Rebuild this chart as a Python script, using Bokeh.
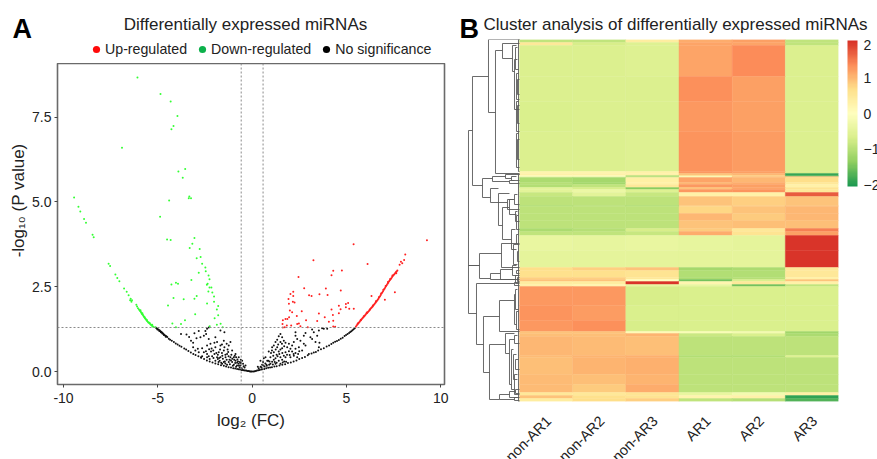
from math import pi
from bokeh.plotting import figure
from bokeh.layouts import row, column
from bokeh.embed import file_html
from bokeh.resources import INLINE
from bokeh.models import (Range1d, FixedTicker, Span, Label, Legend, LegendItem, ColumnDataSource,
                          LinearColorMapper, ColorBar, NumeralTickFormatter)

FONT = "Liberation Sans"
TXT = "#222222"

down_points = [(-6.08,8.67),(-4.86,8.18),(-4.32,7.96),(-3.96,7.53),(-4.17,7.24),(-4.28,7.14),(-6.9,6.6),(-3.55,5.97),(-3.91,5.90),(-3.68,5.71),(-3.33,5.16),(-3.36,5.11),(-3.24,5.11),(-4.40,5.04),(-4.88,4.56),(-9.44,5.13),(-9.21,4.86),(-9.11,4.72),(-8.91,4.50),(-8.81,4.39),
(-8.46,4.03),(-8.40,3.96),(-7.61,3.18),(-7.53,3.11),(-7.25,2.86),(-7.15,2.76),(-7.04,2.66),(-6.79,2.45),(-6.65,2.35),(-6.55,2.25),(-6.44,2.15),(-6.37,2.10),(-6.47,2.10),(-6.40,2.06),
(-6.14,1.97),(-6.10,1.92),(-6.05,1.87),(-6.00,1.83),(-5.96,1.80),(-5.93,1.78),(-5.90,1.76),(-5.87,1.73),(-5.84,1.70),(-5.81,1.68),(-5.78,1.66),(-5.75,1.63),(-5.72,1.61),(-5.69,1.58),(-5.66,1.56),(-5.63,1.54),(-5.60,1.51),(-5.57,1.49),(-5.53,1.47),(-5.50,1.45),(-5.46,1.43),(-5.42,1.41),(-5.38,1.39),(-5.35,1.37),(-5.31,1.35),(-5.27,1.33),(-5.23,1.32),(-5.13,1.31),(-5.92,1.81),(-5.82,1.72),(-5.70,1.60),(-5.58,1.52),(-5.44,1.44),(-5.30,1.38),
(-4.51,3.89),(-4.32,3.88),(-3.06,3.94),(-3.17,3.77),(-3.31,3.64),(-2.78,3.61),(-2.94,3.34),(-2.73,3.38),(-2.65,3.18),(-2.48,3.07),(-2.46,2.96),(-2.83,2.91),(-2.31,2.83),(-3.22,2.70),(-2.26,2.72),(-2.36,2.59),(-2.40,2.56),(-4.28,2.57),(-4.04,2.62),(-3.93,2.59),(-2.26,2.48),(-2.16,2.48),(-2.32,2.36),(-2.11,2.33),(-2.02,2.21),(-2.94,2.23),(-3.06,2.15),(-4.17,2.17),(-3.63,2.13),(-2.02,2.06),(-2.39,2.01),(-4.46,1.95),(-1.80,1.93),(-1.87,1.83),(-1.99,1.57),(-1.80,1.66),(-3.02,1.69),(-3.56,1.51),(-4.23,1.42),(-3.77,1.40),(-4.04,1.31),(-2.25,1.34),(-1.87,1.38),(-1.67,1.41),(-1.56,1.31)]

up_points = [(9.27,3.87),(5.38,3.75),(3.25,3.28),(6.12,3.17),(8.12,3.45),(8.06,3.29),(7.89,3.24),(7.96,3.19),(7.82,3.15),(7.64,2.90),(4.30,2.97),(4.76,2.98),(4.21,2.84),(2.46,2.79),(2.76,2.46),(3.91,2.45),(4.70,2.39),(7.57,2.34),(2.18,2.35),(2.03,2.29),(3.02,2.25),(3.15,2.23),(3.57,2.28),(4.00,2.26),(2.18,2.23),(1.93,2.14),(6.33,2.23),(7.04,2.12),(2.16,2.06),(2.25,2.04),(1.95,2.00),(5.09,2.02),(4.97,1.99),(4.60,1.94),(4.97,1.90),(5.15,1.85),(5.39,1.85),(4.69,1.84),(4.21,1.83),(2.00,1.80),(2.12,1.75),(2.63,1.78),(4.60,1.72),(4.28,1.67),(3.54,1.71),(3.85,1.60),(2.37,1.64),(1.96,1.60),(1.87,1.55),(1.77,1.55),(1.63,1.51),(2.86,1.51),(3.45,1.49),(4.30,1.50),(4.07,1.47),(1.61,1.40),(2.39,1.40),(2.48,1.42),(1.84,1.36),(1.73,1.31),(1.63,1.30),(2.07,1.36),(2.56,1.34),(2.95,1.31),(4.30,1.33),(4.40,1.32),
(5.50,1.32),(5.54,1.36),(5.58,1.39),(5.62,1.42),(5.66,1.44),(5.70,1.47),(5.74,1.50),(5.78,1.52),(5.82,1.55),(5.86,1.58),(5.90,1.60),(5.94,1.63),(5.98,1.65),(6.02,1.68),(6.06,1.71),(6.10,1.73),(6.14,1.76),(6.18,1.78),(6.22,1.81),(6.26,1.84),(6.30,1.87),(6.34,1.89),(6.38,1.91),(6.42,1.94),(6.46,1.97),(6.50,2.00),(6.54,2.03),(6.58,2.06),(6.62,2.09),(6.66,2.12),(6.70,2.15),(6.74,2.19),(6.78,2.22),(6.82,2.26),(6.86,2.30),(6.90,2.33),(6.94,2.37),(6.98,2.41),(7.02,2.44),(7.06,2.48),(7.10,2.52),(7.14,2.55),(7.18,2.59),(7.22,2.62),(7.26,2.66),(7.30,2.69),(7.34,2.72),(7.38,2.75),(7.42,2.79),(7.46,2.82),(7.50,2.85),(7.54,2.87),(7.58,2.90),(7.62,2.93),(7.66,2.95),(7.70,2.98),
(5.60,1.42),(5.76,1.53),(5.92,1.63),(6.08,1.74),(6.24,1.83),(6.40,1.95),(6.56,2.07),(6.72,2.19),(6.84,2.30),(6.96,2.41),(7.08,2.52),(7.20,2.64),(7.32,2.73),(7.44,2.83)]

ns_points = [(-5.10,1.29),(-5.05,1.27),(-5.00,1.25),(-4.95,1.23),(-4.90,1.21),(-4.86,1.19),(-4.82,1.17),(-4.78,1.15),(-4.74,1.13),(-4.70,1.11),(-4.65,1.08),(-4.60,1.06),(-4.55,1.04),(-4.50,1.02),(-4.42,0.97),(-4.35,0.94),(-4.26,0.91),(-4.15,0.87),(-4.05,0.83),(-3.95,0.80),(-3.85,0.76),(-3.75,0.73),(-3.60,0.68),(-3.50,0.65),(-3.38,0.61),(-3.25,0.56),(-3.12,0.52),(-3.00,0.49),(-2.85,0.45),(-2.70,0.41),(-2.55,0.37),(-2.40,0.33),(-2.25,0.30),(-2.10,0.27),(-1.95,0.24),(-1.80,0.22),(-1.65,0.19),(-1.50,0.17),(-1.38,0.15),(-1.25,0.13),(-1.12,0.12),(-1.00,0.10),(-0.90,0.09),(-0.80,0.08),(-0.72,0.07),(-0.64,0.06),(-0.56,0.05),(-0.50,0.05),(-0.44,0.04),(-0.38,0.03),(-0.32,0.03),(-0.26,0.02),(-0.20,0.015),(-0.15,0.01),(-0.10,0.005),(-0.05,0.0),(0,0),
(-5.02,1.24),(-4.92,1.20),(-4.84,1.16),(-4.76,1.12),(-4.68,1.08),(-4.58,1.03),
(-3.77,1.11),(-3.48,1.09),(-3.34,1.02),(-3.06,1.13),(-2.83,1.20),(-2.48,1.20),(-2.39,1.26),(-2.30,1.30),(-2.44,1.11),(-2.56,1.06),(-2.95,0.98),(-3.24,0.91),(-3.13,0.85),(-2.74,1.01),(-2.30,0.96),(-1.68,1.21),(-1.47,1.16),(-1.95,1.01),(-1.86,0.87),(-2.21,0.82),(-2.39,0.77),(-2.65,0.69),(-2.88,0.67),(-3.13,0.72),(-1.50,0.91),(-1.15,0.87),(-1.24,0.77),(-1.47,0.72),(-1.68,0.77),(-1.95,0.72),(-2.18,0.59),(-2.39,0.52),(-2.56,0.57),(-2.00,0.52),(-1.77,0.57),(-1.50,0.62),(-1.33,0.52),(-1.06,0.62),(-0.88,0.52),(-0.97,0.42),(-0.71,0.42),(-0.53,0.32),(-1.15,0.42),(-1.41,0.42),(-1.68,0.42),(-1.86,0.42),(-2.12,0.45),(-2.25,0.37),(-1.95,0.32),(-1.72,0.32),(-1.50,0.28),(-1.24,0.28),(-1.06,0.28),(-0.88,0.32),(-0.71,0.23),(-0.48,0.23),(-0.35,0.18),(-0.62,0.18),(-0.80,0.18),(-0.97,0.20),(-1.33,0.20),(-1.59,0.23),(-1.82,0.37),(-2.39,0.42),(-2.65,0.45),(-2.83,0.57),(-3.01,0.62),(-2.71,0.42),
(-1.30,0.65),(-1.10,0.50),(-0.95,0.35),(-0.85,0.42),(-0.75,0.30),(-0.65,0.28),(-0.60,0.35),(-1.60,0.55),(-1.75,0.40),(-2.05,0.40),(-1.90,0.55),(-2.30,0.45),(-1.35,0.35),(-1.20,0.35),(-1.05,0.38),(-0.90,0.25),(-0.80,0.26),(-0.70,0.17),(-1.45,0.30),(-1.55,0.38),(-1.25,0.45),(-2.15,0.68),(-1.60,0.80),(-1.35,0.82),(-2.00,0.85),(-0.45,0.16),(-0.40,0.12),
(-1.78,0.28),(-1.64,0.26),(-1.42,0.24),(-1.18,0.22),(-1.02,0.17),(-0.85,0.14),(-0.66,0.12),(-0.55,0.10),(-0.92,0.47),(-1.12,0.33),(-1.27,0.58),(-1.42,0.50),(-1.58,0.47),(-1.70,0.65),(-1.82,0.50),(-2.06,0.62),(-2.28,0.66),(-2.45,0.60),(-0.78,0.36),(-0.60,0.25),
(5.44,1.28),(5.38,1.25),(5.32,1.22),(5.26,1.19),(5.20,1.17),(5.14,1.14),(5.06,1.11),(4.98,1.08),(4.90,1.05),(4.80,1.00),(4.70,0.97),(4.60,0.93),(4.50,0.90),(4.40,0.88),(4.30,0.85),(4.20,0.81),(4.08,0.77),(3.95,0.74),(3.80,0.69),(3.65,0.66),(3.50,0.62),(3.38,0.58),(3.27,0.56),(3.15,0.53),(2.95,0.48),(2.80,0.43),(2.65,0.40),(2.50,0.37),(2.35,0.33),(2.20,0.30),(2.05,0.27),(1.90,0.25),(1.75,0.22),(1.60,0.20),(1.45,0.18),(1.30,0.16),(1.18,0.15),(1.05,0.13),(0.95,0.12),(0.85,0.11),(0.75,0.10),(0.65,0.08),(0.55,0.07),(0.48,0.06),(0.40,0.05),(0.33,0.04),(0.26,0.03),(0.20,0.02),(0.14,0.01),(0.08,0.005),
(1.50,1.11),(1.41,1.04),(1.59,1.01),(1.33,0.94),(1.68,0.91),(1.50,0.87),(1.24,0.87),(1.77,0.85),(1.06,0.72),(1.33,0.72),(1.59,0.69),(0.88,0.59),(1.15,0.57),(1.41,0.59),(1.77,0.57),(0.71,0.42),(0.97,0.42),(1.24,0.39),(1.50,0.42),(1.77,0.42),(2.03,0.42),(2.12,0.59),(2.21,0.87),(2.30,1.06),(2.30,1.16),(2.56,0.91),(2.83,1.14),(2.74,0.82),(2.48,0.72),(2.30,0.67),(2.65,0.62),(3.01,0.52),(3.18,0.96),(3.27,1.16),(3.54,1.21),(3.09,1.01),(3.57,0.85),(3.54,0.72),(3.80,1.26),(3.71,1.28),(3.18,1.24),(2.83,0.77),(1.99,0.49),(2.21,0.47),(2.44,0.52),(2.39,0.42),(0.44,0.32),(0.58,0.28),(0.80,0.32),(1.06,0.29),(1.41,0.32),(1.59,0.35),(1.80,0.29),(0.53,0.20),(0.76,0.20),(0.97,0.23),(1.24,0.23),(1.50,0.23),(0.62,0.39),(1.15,0.77),(1.86,0.72),(1.95,0.82),(2.03,0.67),(2.12,0.77),(3.45,1.06),(3.98,1.26),(3.36,0.87),(2.74,1.06),(2.39,0.96),
(1.00,0.55),(1.30,0.50),(1.60,0.55),(1.85,0.50),(2.30,0.55),(0.60,0.18),(0.45,0.14),(0.35,0.10),(0.30,0.14),(0.70,0.24),(0.85,0.32),(1.15,0.35),(1.35,0.45),(1.20,0.28),(1.70,0.30),
(0.50,0.12),(0.66,0.15),(0.78,0.17),(0.90,0.20),(1.10,0.21),(1.30,0.26),(1.62,0.27),(0.92,0.30),(1.12,0.47),(1.44,0.52),(1.68,0.47),(1.95,0.60),(2.20,0.52),(1.05,0.62),(1.25,0.65),(1.50,0.65),(1.70,0.75),(1.38,0.80),(1.58,0.82),(2.50,0.60)]

samples = ["non-AR1", "non-AR2", "non-AR3", "AR1", "AR2", "AR3"]
heat_counts = [3,3,31,25,30,40,2,2,1,1,5,2,3,2,3,4,9,1,7,7,8,3,4,15,17,3,7,2,2,3,2,19,15,11,2,3,19,2,17,10,8,3,3,3]
heat_rows = [
 [-0.9,-0.9,0.4,1.1,1.2,-0.9],[0.5,-0.7,-0.6,1.15,1.15,-0.9],[-0.62,-0.62,-0.6,1.15,1.35,-0.62],
 [-0.62,-0.62,-0.62,1.33,1.2,-0.62],[-0.64,-0.62,-0.62,1.25,1.2,-0.62],[-0.62,-0.62,-0.6,1.3,1.22,-0.62],
 [0.25,0.25,0.3,1.25,1.2,-0.7],[0.3,0.3,0.3,0.9,1.0,-1.85],[0.1,0.1,-1.0,0.6,0.8,-1.7],[-0.3,-0.3,-1.0,-0.1,0.9,0.9],
 [-1.1,-1.15,0.35,1.15,1.0,0.7],[-1.0,-1.15,0.3,1.0,1.1,0.5],[-1.05,-0.9,0.5,1.25,1.2,0.3],[-0.5,-0.7,-1.4,0.9,1.15,0.6],
 [-0.5,-0.35,-0.6,1.25,1.3,0.5],[-0.85,-0.5,-0.85,0.3,0.3,1.7],[-0.95,-0.95,-0.95,0.9,0.8,0.9],[-1.1,-1.0,-1.1,0.85,0.85,0.95],
 [-0.95,-0.95,-0.95,0.75,0.9,1.0],[-0.95,-0.95,-0.95,1.0,0.85,1.0],[-0.95,-0.95,-0.95,0.9,0.95,0.95],[-1.1,-1.0,-0.7,0.85,0.5,1.45],
 [-0.9,-0.9,-0.85,1.1,0.6,1.2],[-0.4,-0.42,-0.4,-0.42,-0.45,2.0],[-0.45,-0.45,-0.45,-0.45,-0.45,2.0],
 [0.7,0.8,0.9,-1.15,-1.1,0.5],[0.65,0.65,0.6,-1.05,-1.05,0.5],[0.8,0.8,0.5,-1.1,-1.0,0.3],[0.9,0.9,0.0,-1.5,-0.65,0.9],
 [0.4,0.4,2.0,0.2,0.5,0.3],[0.3,0.2,-0.4,-0.4,-1.5,-0.9],[1.25,1.25,-0.68,-0.65,-0.65,-0.65],[1.28,1.22,-0.65,-0.65,-0.65,-0.65],
 [1.25,1.32,-0.68,-0.65,-0.65,-0.65],[0.9,0.9,0.1,-0.1,-0.2,-1.2],[0.95,0.95,1.05,-0.8,-0.65,-1.1],[1.0,0.98,0.95,-0.95,-0.95,-0.95],
 [0.98,1.02,1.08,-1.05,-1.05,-0.6],[0.95,1.05,1.08,-0.95,-0.95,-0.95],[0.98,0.95,1.05,-0.95,-0.95,-0.95],[0.98,0.85,1.1,-0.95,-0.95,-0.95],
 [0.5,0.5,0.55,-0.4,-0.2,0.35],[0.9,0.65,0.6,0.25,0.3,-1.9],[0.4,0.7,0.8,-0.9,-1.0,-1.7]]

# dendrogram brackets: height, first row, last row, height of first child, height of second child
dend_nodes = [
 (51,91,274,47,43),(51,226,226,40,40),(47,37,146,31,37),(31,0,73,0,24),(24,11,134,17,0),(17,4,19,0,7),(7,6,32,3,5),(5,20,70,2,0),(4,8,30,2,1),
 (3,34,60,1,0),(3,62,92,1,0),(3,94,128,1,0),(2,40,55,0,0),(2,66,84,0,0),(2,100,120,0,0),
 (37,139,158,27,29),(27,137,142,14,10),(14,135,139,0,8),(10,141,144,5,0),(8,137,141,3,0),(29,149,163,21,12),(21,154,186,10,17),(12,160,170,6,0),
 (17,168,200,10,8),(10,160,175,5,3),(8,190,210,4,3),(6,205,225,3,2),(5,155,165,2,0),(4,172,182,2,0),(3,176,190,1,0),(3,195,205,1,0),(2,212,222,1,0),
 (40,214,239,18,29),(18,204,228,0,0),(29,234,240,19,0),(19,230,240,7,4),(7,226,236,3,0),(4,236,244,2,0),(3,231,234,0,0),(2,238,242,0,0),
 (43,244,305,5,36),(5,243,246,0,0),(36,277,333,20,30),(20,261,292,5,0),(5,255,285,4,3),(4,250,270,2,1),(3,272,290,1,0),
 (30,305,360,14,20),(14,294,314,5,10),(10,300,345,5,8),(8,310,350,6,5),(6,315,340,3,2),(5,335,355,2,0),(5,296,304,2,0),(4,320,330,1,0),
 (20,355,360,10,5),(10,352,358,4,0),(5,358,361,2,0),(4,350,354,0,0),(1,0,132,0,0),(1,135,362,0,0)]

bar_colors = ["#1a9850","#91cf60","#d9ef8b","#ffffbf","#fee08b","#fc8d59","#d73027"]
bar_ticks = [-2,-1,0,1,2]
vol_x_ticks = [-10,-5,0,5,10]
vol_y_ticks = [0,2.5,5,7.5]
fc_cut = 0.58
p_cut = 1.3

def ramp(cols, n):
    out = []
    rgb = [tuple(int(c[i:i+2],16) for i in (1,3,5)) for c in cols]
    for k in range(n):
        t = k/(n-1)*(len(cols)-1)
        i = min(int(t), len(cols)-2)
        f = t-i
        out.append("#%02x%02x%02x" % tuple(round(rgb[i][j]*(1-f)+rgb[i+1][j]*f) for j in range(3)))
    return out

def banner(w, h):
    b = figure(width=w, height=h, output_backend="svg", toolbar_location=None,
               x_range=Range1d(0,w), y_range=Range1d(h,0), x_axis_location=None, y_axis_location=None,
               min_border=0, frame_align=False)
    b.grid.visible = False
    b.outline_line_color = None
    return b

def caption(b, x, y, s, size="17px", style="normal", align="center", color=TXT):
    b.add_layout(Label(x=x, y=y, text=s, text_font=FONT, text_font_size=size, text_font_style=style,
                       text_color=color, text_align=align, text_baseline="middle"))

# ---------- Panel A
ban_a = banner(453, 63)
caption(ban_a, 245, 24, "Differentially expressed miRNAs")
caption(ban_a, 12, 28, "A", size="27px", style="bold", align="left", color="#000000")

off = -50
leg_up = ban_a.scatter([off], [off], marker="circle", fill_color="#ff0a0a", line_color=None)
leg_down = ban_a.scatter([off], [off], marker="circle", fill_color="#0cb14b", line_color=None)
leg_ns = ban_a.scatter([off], [off], marker="circle", fill_color="#000000", line_color=None)
legend = Legend(items=[LegendItem(label="Up-regulated", renderers=[leg_up]),
                       LegendItem(label="Down-regulated", renderers=[leg_down]),
                       LegendItem(label="No significance", renderers=[leg_ns])],
                orientation="horizontal", location=(87,5), padding=0, margin=0, spacing=6,
                glyph_width=18, glyph_height=18, label_standoff=0, border_line_color=None,
                background_fill_alpha=0, label_text_font=FONT, label_text_font_size="14.2px",
                label_text_color=TXT, label_height=18)
ban_a.add_layout(legend, "center")

p1 = figure(width=453, height=396, output_backend="svg", toolbar_location=None,
            x_range=Range1d(-10.32,10.2), y_range=Range1d(-0.38,9.08), frame_align=False,
            min_border_left=57, min_border_right=9, min_border_top=0, min_border_bottom=75)
p1.grid.visible = False
p1.outline_line_color = "#6a6a6a"
p1.outline_line_width = 1.6
for ax in (p1.xaxis[0], p1.yaxis[0]):
    ax.axis_line_color = None
    ax.major_tick_line_color = "#444444"
    ax.major_tick_in = 0
    ax.major_tick_out = 3
    ax.minor_tick_line_color = None
    ax.major_label_text_font = FONT
    ax.major_label_text_font_size = "14px"
    ax.major_label_text_color = TXT
    ax.axis_label_text_font = FONT
    ax.axis_label_text_font_size = "17px"
    ax.axis_label_text_font_style = "normal"
    ax.axis_label_text_color = TXT
p1.xaxis.ticker = FixedTicker(ticks=vol_x_ticks)
p1.xaxis.major_label_overrides = {-10:"-10", -5:"-5", 0:"0", 5:"5", 10:"10"}
p1.xaxis.major_label_standoff = 5
p1.xaxis.axis_label = "log\u2082 (FC)"
p1.xaxis.axis_label_standoff = 5
p1.yaxis.ticker = FixedTicker(ticks=vol_y_ticks)
p1.yaxis.formatter = NumeralTickFormatter(format="0.0")
p1.yaxis.major_label_standoff = 3
p1.yaxis.axis_label = "\u00a0"*10 + "-log\u2081\u2080 (P value)"
p1.yaxis.axis_label_standoff = 1

for v, dim in ((-fc_cut,"height"), (fc_cut,"height"), (p_cut,"width")):
    p1.add_layout(Span(location=v, dimension=dim, line_color="#8a8a8a", line_width=1, line_dash="2 2"))

def pts(plist, color):
    return p1.scatter([a for a,_ in plist], [b for _,b in plist], size=2, marker="circle",
                      fill_color=color, line_color=None)
pts(ns_points, "#111111")
pts(down_points, "#33ff33")
pts(up_points, "#ff2020")

# ---------- Panel B
ban_b = banner(424, 39)
caption(ban_b, 222, 24, "Cluster analysis of differentially expressed miRNAs")
caption(ban_b, 6, 28, "B", size="27px", style="bold", align="left", color="#000000")

col_w = 53.17
heat_total = sum(heat_counts)
p2 = figure(width=424, height=420, output_backend="svg", toolbar_location=None,
            x_range=Range1d(-52/col_w, 6), y_range=Range1d(heat_total, 0), frame_align=False,
            frame_width=371, frame_height=362,
            min_border_left=14, min_border_right=39, min_border_top=0, min_border_bottom=58,
            y_axis_location=None)
p2.grid.visible = False
p2.outline_line_color = None

xl, xr, yt, yb, vals = [], [], [], [], []
pos = 0
for cnt, rowv in zip(heat_counts, heat_rows):
    for j, v in enumerate(rowv):
        xl.append(j); xr.append(j+1); yt.append(pos); yb.append(pos+cnt); vals.append(v)
    pos += cnt
mapper = LinearColorMapper(palette=ramp(bar_colors, 128), low=-2.04, high=2.04)
src = ColumnDataSource(dict(left=xl, right=xr, top=yt, bottom=yb, value=vals))
p2.quad(left="left", right="right", top="top", bottom="bottom", source=src,
        line_color={"field":"value","transform":mapper}, line_width=0.4,
        fill_color={"field":"value","transform":mapper})

dx, dy = [], []
for h, r0, r1, h0, h1 in dend_nodes:
    dx.append([-h0/col_w, -h/col_w, -h/col_w, -h1/col_w])
    dy.append([r0, r0, r1, r1])
p2.multi_line(dx, dy, line_color="#5a5a5a", line_width=0.9)

ticks = [i+0.55 for i in range(len(samples))]
p2.xaxis.ticker = FixedTicker(ticks=ticks)
p2.xaxis.major_label_overrides = {t: s for t, s in zip(ticks, samples)}
p2.xaxis.major_label_orientation = pi/4
p2.xaxis.major_label_text_font = FONT
p2.xaxis.major_label_text_font_size = "14.5px"
p2.xaxis.major_label_text_color = TXT
p2.xaxis.major_label_standoff = 11
p2.xaxis.axis_line_color = None
p2.xaxis.major_tick_line_color = None
p2.xaxis.minor_tick_line_color = None

cb = ColorBar(color_mapper=mapper, location=(380,215), width=10, height=146, padding=0, margin=0,
              ticker=FixedTicker(ticks=bar_ticks), major_tick_line_color=None, minor_tick_line_color=None,
              major_label_overrides={-2:"\u22122", -1:"\u22121", 0:"0", 1:"1", 2:"2"},
              major_label_text_font=FONT, major_label_text_font_size="14px", major_label_text_color=TXT,
              label_standoff=6, background_fill_color=None, bar_line_color=None)
p2.add_layout(cb, "center")

page = row(column(ban_a, p1, spacing=0), column(ban_b, p2, spacing=0), spacing=0)
open("out.html", "w").write(file_html(page, INLINE))
